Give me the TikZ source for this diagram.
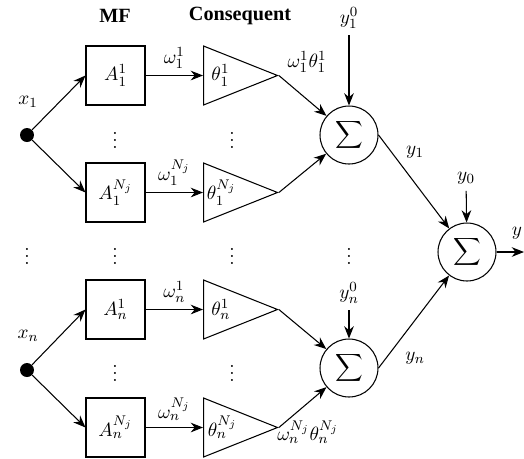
\documentclass[tikz,border=0pt,11pt]{standalone}
\usepackage{amsmath,amssymb}
\usepackage{fontspec}
\newfontfamily\titlefont{Liberation Serif}
\usepackage{tikz}
\usetikzlibrary{shapes,arrows.meta,positioning}

\begin{document}
\begin{tikzpicture}[
    x=0.02cm, y=-0.02cm,
    title/.style={font=\titlefont\bfseries\fontsize{11.5}{13}\selectfont},
    mf/.style={rectangle, draw, semithick, minimum width=1.18cm, minimum height=1.18cm, inner sep=0pt},
    cons/.style={isosceles triangle, isosceles triangle stretches, draw, semithick, minimum width=1.18cm, minimum height=1.48cm, inner sep=0pt, anchor=lower side},
    sumnode/.style={circle, draw, semithick, minimum size=1.16cm, inner sep=0pt},
    input/.style={circle, fill, minimum size=0.28cm, inner sep=0pt},
    line/.style={draw, semithick, -{Stealth[length=7pt,width=5.5pt]}}
]
    \useasboundingbox (0,0) rectangle (524,458);

    % titles
    \node [title] (mftitle) at (115,16) {MF};
    \node [title] (contitle) at (240,16) {Consequent};

    % inputs
    \node [input] (x1) at (27,135) {};
    \node (x1lab) at (28,102) {$x_1$};
    \node [input] (xn) at (27,370) {};
    \node (xnlab) at (28,336) {$x_n$};

    % membership functions
    \node [mf] (a11) at (115.5,75.5) {$A_1^1$};
    \node [mf] (a1n) at (115.5,192.5) {$A_1^{N_j}$};
    \node [mf] (an1) at (115.5,309.5) {$A_n^1$};
    \node [mf] (ann) at (115.5,427.5) {$A_n^{N_j}$};

    % consequents
    \node [cons] (t11) at (203,75.5) {$\theta_1^1$};
    \node [cons] (t1n) at (203,192.5) {$\theta_1^{N_j}$};
    \node [cons] (tn1) at (203,309.5) {$\theta_n^1$};
    \node [cons] (tnn) at (203,427.5) {$\theta_n^{N_j}$};

    % sums
    \node [sumnode] (s1) at (349,135) {$\displaystyle\sum$};
    \node [sumnode] (sn) at (349,368) {$\displaystyle\sum$};
    \node [sumnode] (s) at (467,252) {$\displaystyle\sum$};

    \node (y10) at (349,18) {$y_1^0$};
    \node (yn0) at (349,293) {$y_n^0$};
    \node (y0) at (466,178) {$y_0$};
    \node (ylab) at (517,233) {$y$};
    \coordinate (out) at (524,252);

    \node (p11) at (307,62) {$\omega_1^1\theta_1^1$};
    \node (pnn) at (308,432) {$\omega_n^{N_j}\theta_n^{N_j}$};
    \node (y1lab) at (415,152) {$y_1$};
    \node (ynlab) at (415,358) {$y_n$};

    % dots
    \node (d1) at (115,135) {$\vdots$};
    \node (d2) at (232,135) {$\vdots$};
    \node (d3) at (27,251) {$\vdots$};
    \node (d4) at (115,251) {$\vdots$};
    \node (d5) at (232,251) {$\vdots$};
    \node (d6) at (349,251) {$\vdots$};
    \node (d7) at (115,368) {$\vdots$};
    \node (d8) at (232,368) {$\vdots$};

    \path [line] (x1) -- (a11.west);
    \path [line] (x1) -- (a1n.west);
    \path [line] (xn) -- (an1.west);
    \path [line] (xn) -- (ann.west);

    \path [line] (a11) -- node [above] {$\omega_1^1$} (t11.lower side);
    \path [line] (a1n) -- node [above] {$\omega_1^{N_j}$} (t1n.lower side);
    \path [line] (an1) -- node [above] {$\omega_n^1$} (tn1.lower side);
    \path [line] (ann) -- node [above] {$\omega_n^{N_j}$} (tnn.lower side);

    \path [line] (t11.apex) -- (s1);
    \path [line] (t1n.apex) -- (s1);
    \path [line] (tn1.apex) -- (sn);
    \path [line] (tnn.apex) -- (sn);

    \path [line] (y10) -- (s1);
    \path [line] (yn0) -- (sn);
    \path [line] (y0) -- (s);

    \path [line] (s1.east) -- (s);
    \path [line] (sn.east) -- (s);
    \path [line] (s) -- (out);
\end{tikzpicture}
\end{document}
